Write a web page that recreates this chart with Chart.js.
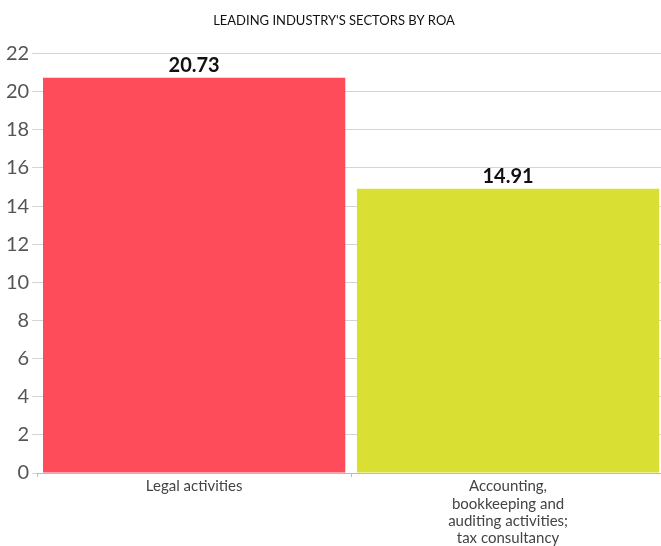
<!DOCTYPE html>
<html>
<head>
<meta charset="utf-8">
<script src="https://cdn.jsdelivr.net/npm/chart.js@4"></script>
<style>
    html, body { margin: 0; padding: 0; background: #fff; overflow: hidden; }
    #wrap { width: 665px; height: 546px; }
</style>
</head>
<body>
<div id="wrap"><canvas id="roaChart"></canvas></div>
<script>
// sectors and ROA values
const sectors = [
    ['Legal activities'],
    ['Accounting,', 'bookkeeping and', 'auditing activities;', 'tax consultancy']
];
const roaValues = [20.73, 14.91];
const barColors = ['#fe4c5b', '#d9e033'];
const yTicks = [0, 2, 4, 6, 8, 10, 12, 14, 16, 18, 20, 22];

const FONT = 'Lato, "Open Sans", sans-serif';

// values drawn above each bar
const valueLabels = {
    id: 'valueLabels',
    afterDatasetsDraw(chart) {
        const ctx = chart.ctx;
        const meta = chart.getDatasetMeta(0);
        ctx.save();
        ctx.font = 'bold 20px ' + FONT;
        ctx.fillStyle = '#111';
        ctx.textAlign = 'center';
        ctx.textBaseline = 'bottom';
        meta.data.forEach((bar, i) => {
            ctx.fillText(roaValues[i].toFixed(2), bar.x, bar.y - 2);
        });
        ctx.restore();
    }
};

new Chart(document.getElementById('roaChart'), {
    type: 'bar',
    data: {
        labels: sectors,
        datasets: [{
            data: roaValues,
            backgroundColor: barColors,
            barPercentage: 0.963,
            categoryPercentage: 1
        }]
    },
    options: {
        responsive: true,
        maintainAspectRatio: false,
        animation: false,
        layout: { padding: { left: 3, right: 0, top: 0, bottom: -2 } },
        plugins: {
            legend: { display: false },
            tooltip: { enabled: false },
            title: {
                display: true,
                text: "LEADING INDUSTRY'S SECTORS BY ROA",
                color: '#111',
                font: { family: FONT, size: 13, weight: 'normal' },
                padding: { top: 13, bottom: 25 }
            }
        },
        scales: {
            x: {
                offset: true,
                border: { display: true, color: '#bbb' },
                grid: { display: true, drawOnChartArea: false, drawTicks: true, tickLength: 4, color: '#bbb', offset: true },
                ticks: {
                    color: '#444',
                    font: { family: FONT, size: 15, lineHeight: 1.15 },
                    padding: 1,
                    maxRotation: 0
                }
            },
            y: {
                min: 0,
                max: 22,
                afterBuildTicks(axis) {
                    axis.ticks = yTicks.map(v => ({ value: v }));
                },
                border: { display: false },
                grid: { color: '#d4d4d4', lineWidth: 1, tickLength: 5 },
                ticks: {
                    color: '#555',
                    font: { family: FONT, size: 20 },
                    padding: 3
                }
            }
        }
    },
    plugins: [valueLabels]
});
</script>
</body>
</html>
